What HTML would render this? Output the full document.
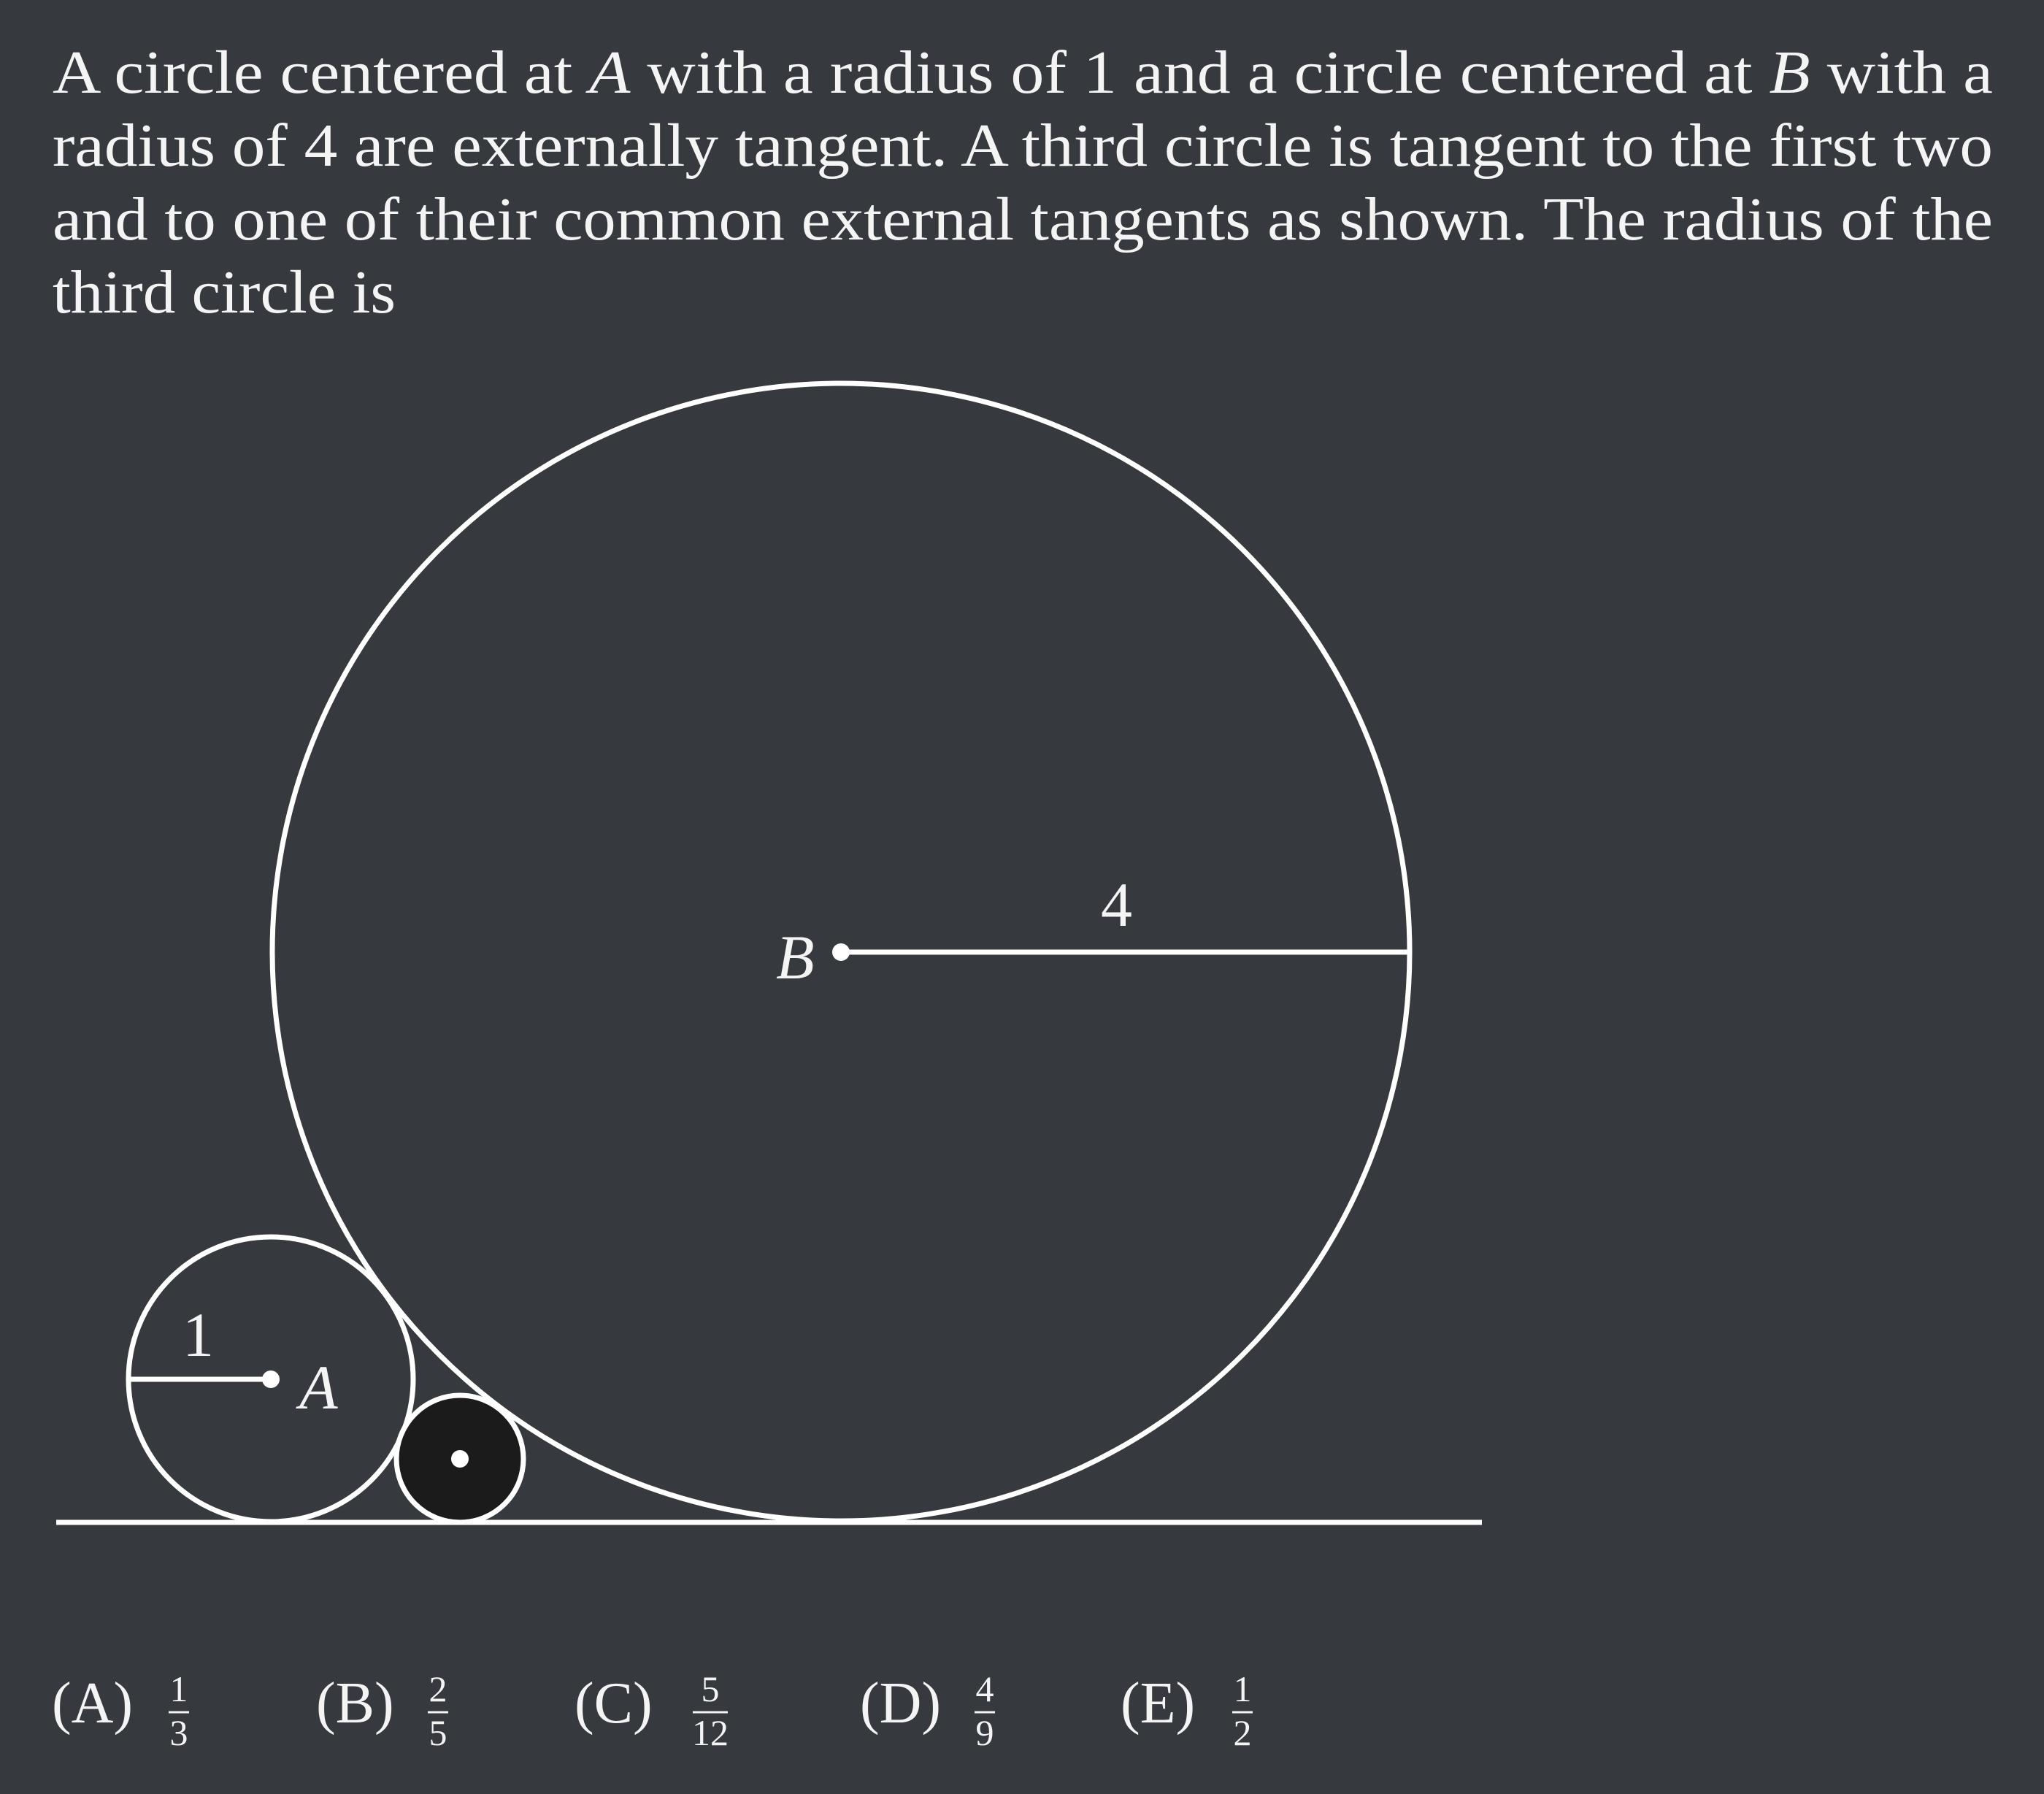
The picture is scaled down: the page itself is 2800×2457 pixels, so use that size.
<!DOCTYPE html>
<html><head><meta charset="utf-8"><style>
html,body{margin:0;padding:0;background:#36393e;}
svg{display:block;}
text{font-family:"Liberation Serif",serif;fill:#f4f4f4;}
</style></head><body>
<svg width="2800" height="2457" viewBox="0 0 2800 2457" xmlns="http://www.w3.org/2000/svg">
<rect width="2800" height="2457" fill="#36393e"/>
<g font-size="84">
<text x="72" y="127" textLength="2658" lengthAdjust="spacingAndGlyphs">A circle centered at <tspan font-style="italic">A</tspan> with a radius of 1 and a circle centered at <tspan font-style="italic">B</tspan> with a</text>
<text x="72" y="227" textLength="2658" lengthAdjust="spacingAndGlyphs">radius of 4 are externally tangent.  A third circle is tangent to the first two</text>
<text x="72" y="328" textLength="2658" lengthAdjust="spacingAndGlyphs">and to one of their common external tangents as shown.  The radius of the</text>
<text x="72" y="428" textLength="470" lengthAdjust="spacingAndGlyphs">third circle is</text>
</g>
<g stroke="#ffffff" stroke-width="7" fill="none">
<circle cx="1152" cy="1304" r="779"/>
<circle cx="371" cy="1889" r="195"/>
<circle cx="630" cy="1998" r="87" fill="#1b1b1b"/>
<line x1="77" y1="2085" x2="2030" y2="2085"/>
<line x1="1152" y1="1304" x2="1931" y2="1304"/>
<line x1="176" y1="1889" x2="371" y2="1889"/>
</g>
<circle cx="1152" cy="1304" r="12" fill="#fff"/>
<circle cx="371" cy="1889" r="12" fill="#fff"/>
<circle cx="630" cy="1998" r="12" fill="#fff"/>
<text x="1508" y="1268" font-size="86">4</text>
<text x="1063" y="1340" font-size="86" font-style="italic">B</text>
<text x="250" y="1857" font-size="86">1</text>
<text x="410" y="1929" font-size="86" font-style="italic">A</text>
<g font-size="80">
<text x="71" y="2359">(A)</text>
<text x="433" y="2359">(B)</text>
<text x="787" y="2359">(C)</text>
<text x="1178" y="2359">(D)</text>
<text x="1535" y="2359">(E)</text>
</g>
<g font-size="50" text-anchor="middle">
<text x="245" y="2330">1</text><line x1="231" y1="2345" x2="259" y2="2345" stroke="#f4f4f4" stroke-width="3"/><text x="245" y="2390">3</text>
<text x="600" y="2330">2</text><line x1="586" y1="2345" x2="614" y2="2345" stroke="#f4f4f4" stroke-width="3"/><text x="600" y="2390">5</text>
<text x="973" y="2330">5</text><line x1="949" y1="2345" x2="997" y2="2345" stroke="#f4f4f4" stroke-width="3"/><text x="973" y="2390">12</text>
<text x="1349" y="2330">4</text><line x1="1335" y1="2345" x2="1363" y2="2345" stroke="#f4f4f4" stroke-width="3"/><text x="1349" y="2390">9</text>
<text x="1702" y="2330">1</text><line x1="1688" y1="2345" x2="1716" y2="2345" stroke="#f4f4f4" stroke-width="3"/><text x="1702" y="2390">2</text>
</g>
</svg>
</body></html>
